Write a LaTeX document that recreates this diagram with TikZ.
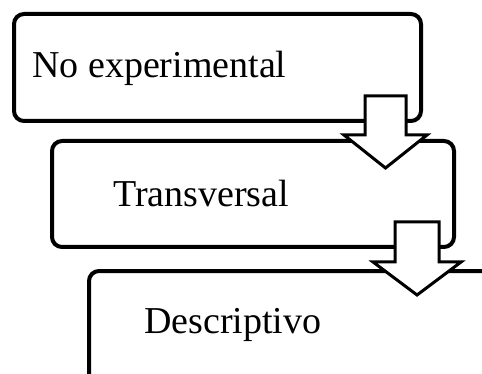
\documentclass[tikz,border=0pt]{standalone}
\usepackage{fontspec}
\setmainfont{Liberation Serif}
\begin{document}
\begin{tikzpicture}[x=1pt,y=-1pt,
  box/.style={draw,line width=4pt,rounded corners=10pt,inner sep=0pt},
  lbl/.style={anchor=base west,inner sep=0pt,font=\fontsize{38}{40}\selectfont},
  blockarrow/.style={draw,fill=white,line width=3pt,line join=miter}]
 \useasboundingbox (0,0) rectangle (482,374);
 \clip (0,0) rectangle (482,374);
 % stacked boxes
 \node[box,minimum width=407pt,minimum height=107pt] (noexp) at (217.5,67.5) {};
 \node[box,minimum width=402pt,minimum height=106pt] (transv) at (253,194) {};
 \node[box,minimum width=420pt,minimum height=120pt] (descr) at (299,331) {};
 \node[lbl] (tnoexp) at (32,78) {No experimental};
 \node[lbl] (ttransv) at (113,207) {Transversal};
 \node[lbl] (tdescr) at (144,333) {Descriptivo};
 % down arrows
 \draw[blockarrow] (365,96) -- (406,96) -- (406,135) -- (427,135) -- (385.5,168)
   -- (344,135) -- (365,135) -- cycle;
 \draw[blockarrow] (395,222) -- (439,222) -- (439,262) -- (461,262) -- (417,295)
   -- (373,262) -- (395,262) -- cycle;
\end{tikzpicture}
\end{document}
